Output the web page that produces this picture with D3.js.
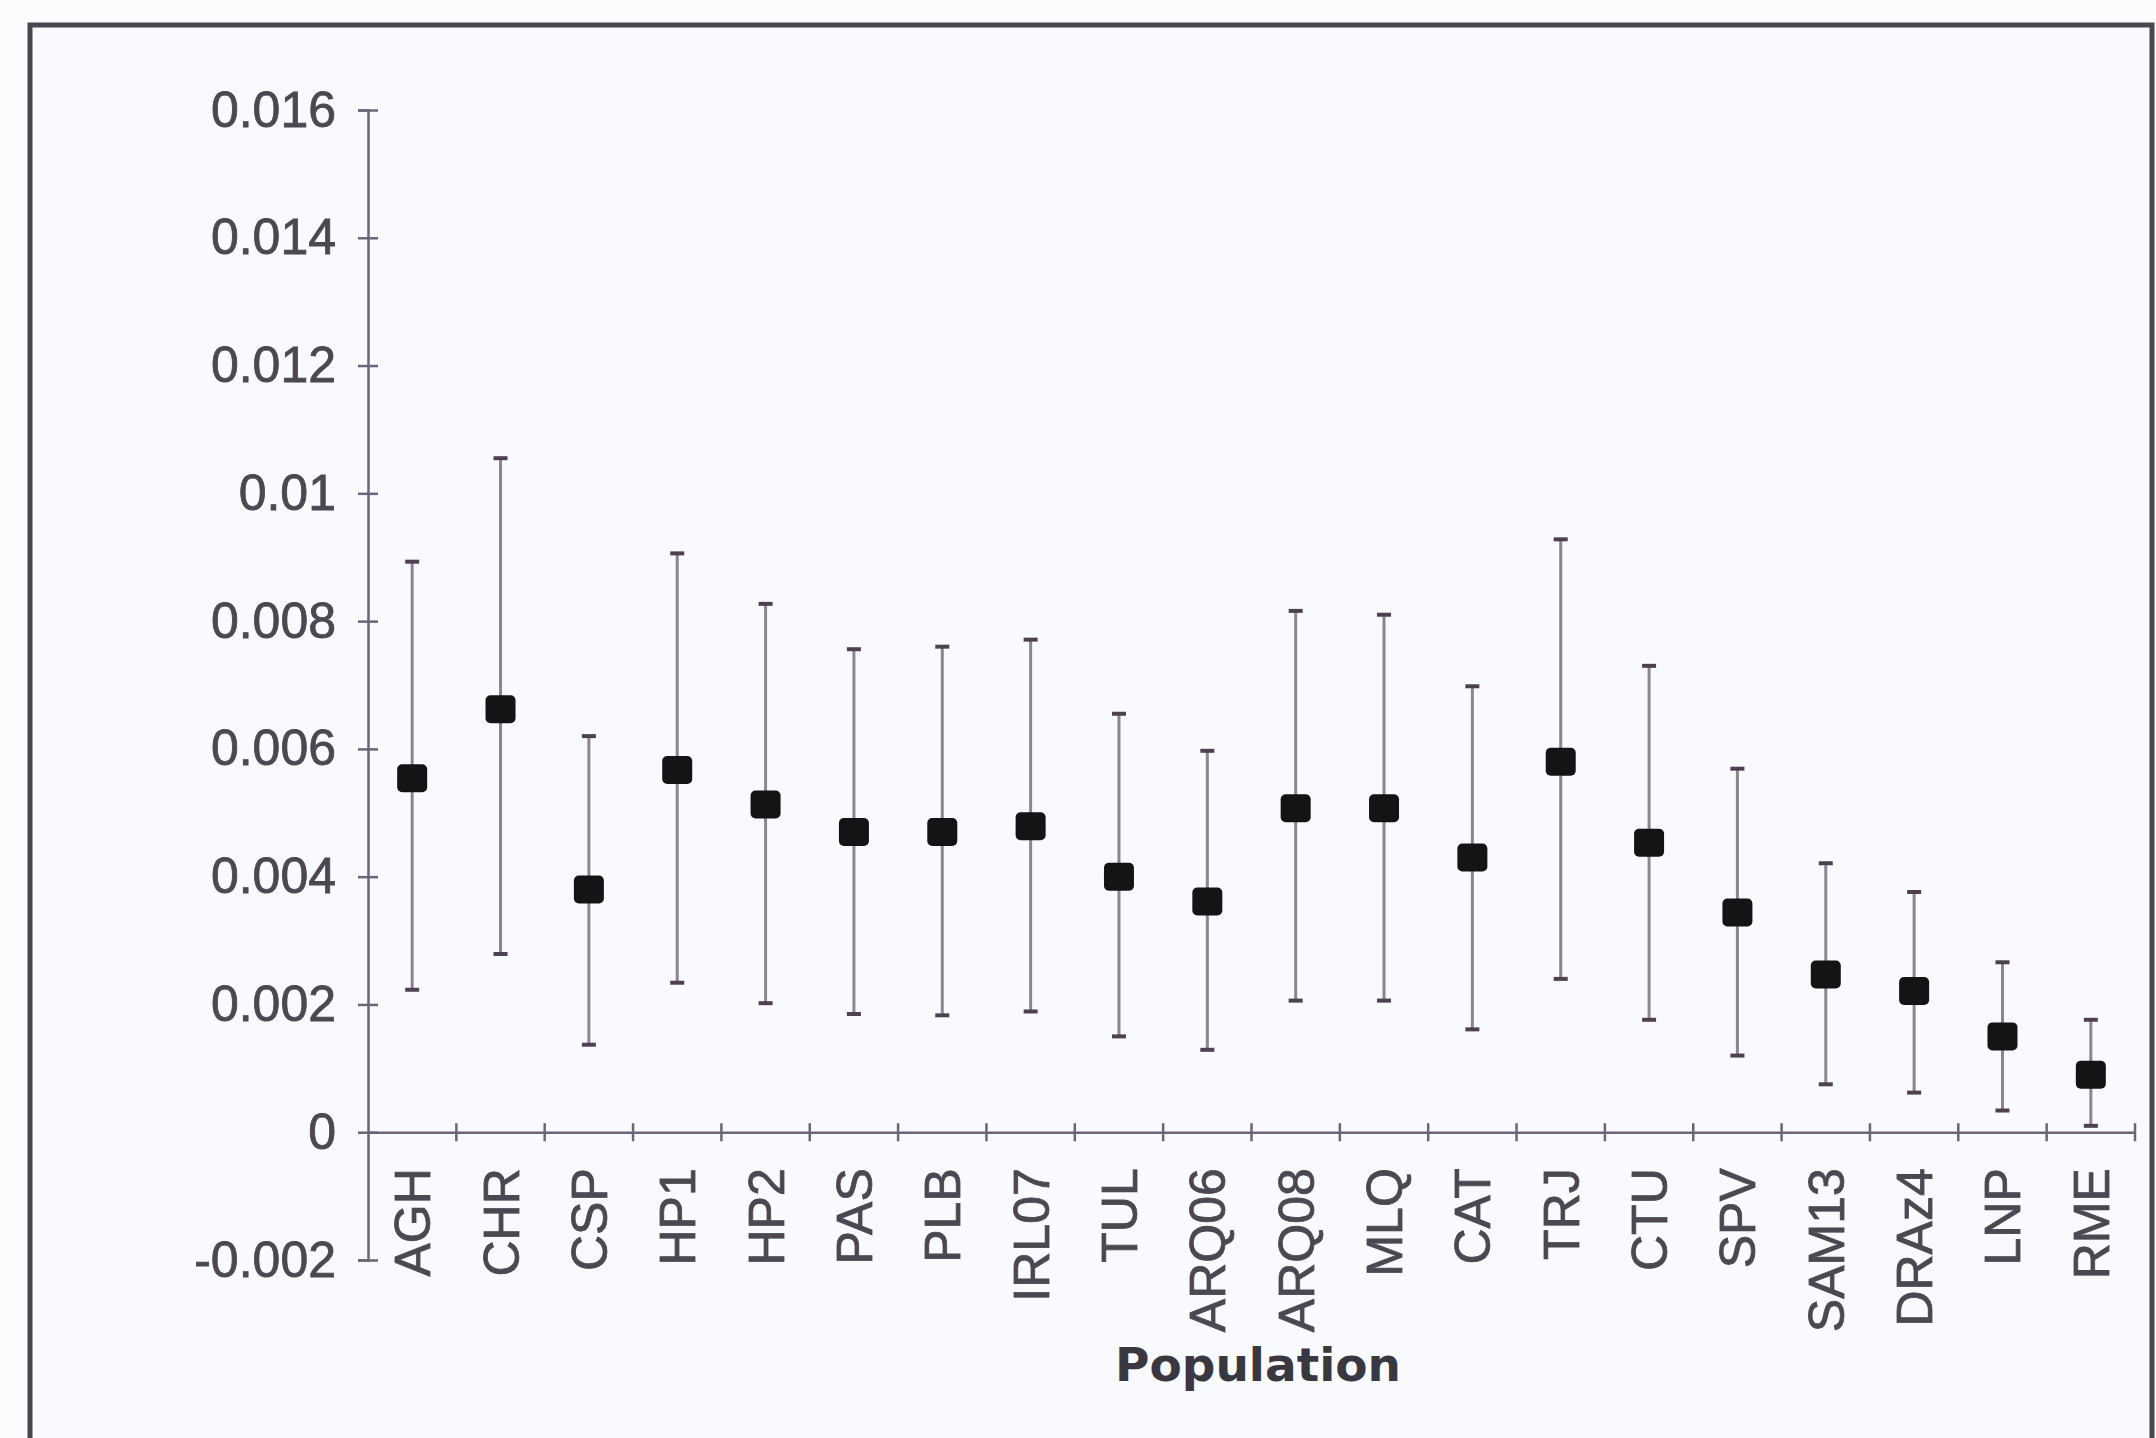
<!DOCTYPE html>
<html>
<head>
<meta charset="utf-8" />
<title>Population error bars</title>
<script src="https://cdn.jsdelivr.net/npm/d3@7/dist/d3.min.js"></script>
<style>
  body { margin: 0; background: #fbfcfe; }
  svg { display: block; }
</style>
</head>
<body>
<svg id="chart"></svg>
<script>
// values
var populations = ["AGH", "CHR", "CSP", "HP1", "HP2", "PAS", "PLB", "IRL07", "TUL", "ARQ06",
                   "ARQ08", "MLQ", "CAT", "TRJ", "CTU", "SPV", "SAM13", "DRAz4", "LNP", "RME"];
var means = [0.00554, 0.00662, 0.0038, 0.00567, 0.00513, 0.0047, 0.0047, 0.00479, 0.0040, 0.00361,
             0.00507, 0.00507, 0.0043, 0.0058, 0.00453, 0.00344, 0.00247, 0.00221, 0.0015, 0.0009];
var upper = [0.00893, 0.01055, 0.0062, 0.00906, 0.00827, 0.00756, 0.0076, 0.00771, 0.00655, 0.00597,
             0.00816, 0.0081, 0.00698, 0.00928, 0.0073, 0.00569, 0.00421, 0.00376, 0.00266, 0.00176];
var lower = [0.00223, 0.00279, 0.00137, 0.00234, 0.00202, 0.00185, 0.00183, 0.00189, 0.0015, 0.00129,
             0.00206, 0.00206, 0.00161, 0.0024, 0.00176, 0.0012, 0.00075, 0.00062, 0.00034, 0.0001];
var yTicks = [-0.002, 0, 0.002, 0.004, 0.006, 0.008, 0.01, 0.012, 0.014, 0.016];

var W = 2156, H = 1438;
var axisCol = "#6d6577", textCol = "#4c4852";

var svg = d3.select("#chart").attr("width", W).attr("height", H);

// frame
svg.append("rect").attr("x", 0).attr("y", 0).attr("width", W).attr("height", H).attr("fill", "#fbfcfe");
svg.append("rect")
  .attr("x", 30).attr("y", 25).attr("width", W - 34).attr("height", H + 20)
  .attr("fill", "#f8fafd").attr("stroke", "#4a4650").attr("stroke-width", 5);

var y = d3.scaleLinear().domain([-0.002, 0.016]).range([1260, 110]);
var x = d3.scaleBand().domain(populations).range([368, 2135]);

var font = "'Liberation Sans', Arial, sans-serif";

// y axis, ticks crossing the line
var gy = svg.append("g").attr("transform", "translate(368,0)")
  .call(d3.axisLeft(y).tickValues(yTicks).tickSize(10).tickPadding(22)
    .tickFormat(function(d) { return String(+d.toFixed(3)); }));
gy.select(".domain").attr("stroke", axisCol).attr("stroke-width", 2.5);
gy.selectAll(".tick line").attr("x1", 10).attr("x2", -10).attr("stroke", axisCol).attr("stroke-width", 2.5);
gy.selectAll(".tick text")
  .attr("fill", textCol).attr("stroke", textCol).attr("stroke-width", 0.8)
  .style("font-family", font).style("font-size", "50px");

// x axis at zero
var y0 = y(0);
var gx = svg.append("g").attr("transform", "translate(0," + y0 + ")")
  .call(d3.axisBottom(x).tickSize(0).tickPadding(0));
gx.select(".domain").attr("stroke", axisCol).attr("stroke-width", 2.5);
gx.selectAll(".tick text")
  .attr("transform", "rotate(-90)")
  .attr("x", -36).attr("y", 0).attr("dy", "0.36em")
  .attr("text-anchor", "end")
  .attr("fill", textCol).attr("stroke", textCol).attr("stroke-width", 0.8)
  .style("font-family", font).style("font-size", "50px");

// boundary ticks between categories
svg.append("g").selectAll("line")
  .data(d3.range(1, populations.length + 1))
  .join("line")
  .attr("x1", function(i) { return x.range()[0] + i * x.step(); })
  .attr("x2", function(i) { return x.range()[0] + i * x.step(); })
  .attr("y1", y0 - 9).attr("y2", y0 + 9)
  .attr("stroke", axisCol).attr("stroke-width", 2.5);

svg.append("text")
  .attr("x", 1258).attr("y", 1381)
  .attr("text-anchor", "middle")
  .attr("fill", "#3a3740")
  .style("font-family", "'DejaVu Sans', Verdana, sans-serif")
  .style("font-weight", "bold")
  .style("font-size", "47px")
  .text("Population");

// error bars + markers
var rows = populations.map(function(p, i) {
  return { name: p, m: means[i], hi: upper[i], lo: lower[i] };
});
var cx = function(d) { return x(d.name) + x.bandwidth() / 2; };

var g = svg.append("g");
g.selectAll(".bar").data(rows).join("line").attr("class", "bar")
  .attr("x1", cx).attr("x2", cx)
  .attr("y1", function(d) { return y(d.hi); })
  .attr("y2", function(d) { return y(d.lo); })
  .attr("stroke", "#8b8592").attr("stroke-width", 3);

["hi", "lo"].forEach(function(k) {
  g.selectAll(".cap-" + k).data(rows).join("line").attr("class", "cap-" + k)
    .attr("x1", function(d) { return cx(d) - 7; })
    .attr("x2", function(d) { return cx(d) + 7; })
    .attr("y1", function(d) { return y(d[k]); })
    .attr("y2", function(d) { return y(d[k]); })
    .attr("stroke", "#4e4050").attr("stroke-width", 4);
});

g.selectAll(".pt").data(rows).join("rect").attr("class", "pt")
  .attr("x", function(d) { return cx(d) - 15; })
  .attr("y", function(d) { return y(d.m) - 14; })
  .attr("width", 30).attr("height", 28).attr("rx", 5)
  .attr("fill", "#151316");
</script>
</body>
</html>
